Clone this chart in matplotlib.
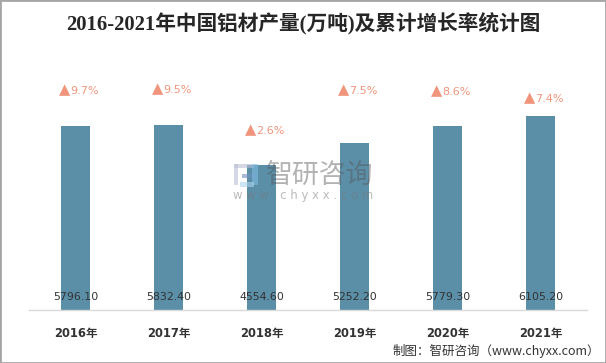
import matplotlib
matplotlib.use("Agg")
import matplotlib.pyplot as plt
from matplotlib.patches import Rectangle

plt.rcParams['font.family'] = ['DejaVu Sans', 'Noto Sans CJK SC']

years = ["2016年", "2017年", "2018年", "2019年", "2020年", "2021年"]
output = [5796.10, 5832.40, 4554.60, 5252.20, 5779.30, 6105.20]
growth = ["9.7%", "9.5%", "2.6%", "7.5%", "8.6%", "7.4%"]
# height of the growth labels, same units as the bars
label_h = [6890, 6920, 5640, 6890, 6860, 6650]

W, H = 606, 363
fig = plt.figure(figsize=(W / 100, H / 100), dpi=100)
ax = fig.add_axes([29 / W, 1 - 310 / H, 558 / W, 280 / H])

xs = list(range(len(years)))
ax.bar(xs, output, width=29 / 93, color="#5b8fa8", zorder=2)
ax.set_xlim(-0.5, 5.5)
ax.set_ylim(0, 280 * 31.45)

for s in ["top", "left", "right"]:
    ax.spines[s].set_visible(False)
ax.spines["bottom"].set_color("#d9d9d9")
ax.spines["bottom"].set_linewidth(1)
ax.set_yticks([])
ax.set_xticks(xs)
ax.set_xticklabels(years, fontsize=8.3, fontweight="bold", color="#333333")
ax.tick_params(axis="x", length=0, pad=12)

for x, v in zip(xs, output):
    ax.annotate("%.2f" % v, (x, 0), xytext=(0, 13), textcoords="offset pixels",
                ha="center", va="center", fontsize=7.9, color="#333333", zorder=5)

for x, g, h in zip(xs, growth, label_h):
    ax.annotate("▲", (x, h), xytext=(-11, 1), textcoords="offset pixels",
                ha="center", va="center", fontsize=10.5, color="#f0957c")
    ax.annotate(g, (x, h), xytext=(-5, 0), textcoords="offset pixels",
                ha="left", va="center", fontsize=8, color="#f0957c")

fig.text(303.5 / W, 1 - 24 / H, "2016-2021年中国铝材产量(万吨)及累计增长率统计图",
         ha="center", va="center", fontsize=14.9, fontweight="bold", color="#262626",
         family=["Liberation Serif", "Noto Sans CJK SC"])

# watermark
fig.text(266 / W, 1 - 175 / H, "智研咨询", ha="left", va="center", fontsize=19.4,
         color="#555555", alpha=0.45, family=["Noto Sans CJK SC"], zorder=6)
fig.text(233 / W, 1 - 195 / H, "w w w . c h y x x . c o m", ha="left", va="center",
         fontsize=8.4, color="#777777", alpha=0.5, zorder=6)
for rx, ry, rw, rh, c in [(234, 164, 20, 4, "#b9c0d6"), (234, 164, 4, 21, "#b9c0d6"),
                          (242, 174, 14, 4, "#6f8fc0"), (252, 164, 6, 21, "#7fbce0"),
                          (240, 182, 14, 5, "#a9d4ec")]:
    fig.add_artist(Rectangle((rx / W, 1 - (ry + rh) / H), rw / W, rh / H,
                             transform=fig.transFigure, color=c, alpha=0.6, lw=0, zorder=6))

fig.text(393 / W, 1 - 351 / H, "制图：智研咨询（www.chyxx.com）", ha="left", va="center",
         fontsize=9, color="#333333", family=["Noto Sans CJK SC", "DejaVu Sans"])

# grey frame of the image
fig.add_artist(Rectangle((0, 0), 1, 1, transform=fig.transFigure, fill=False,
                         edgecolor="#a6a6a6", lw=2, zorder=10))

fig.savefig("out.png", dpi=100)
